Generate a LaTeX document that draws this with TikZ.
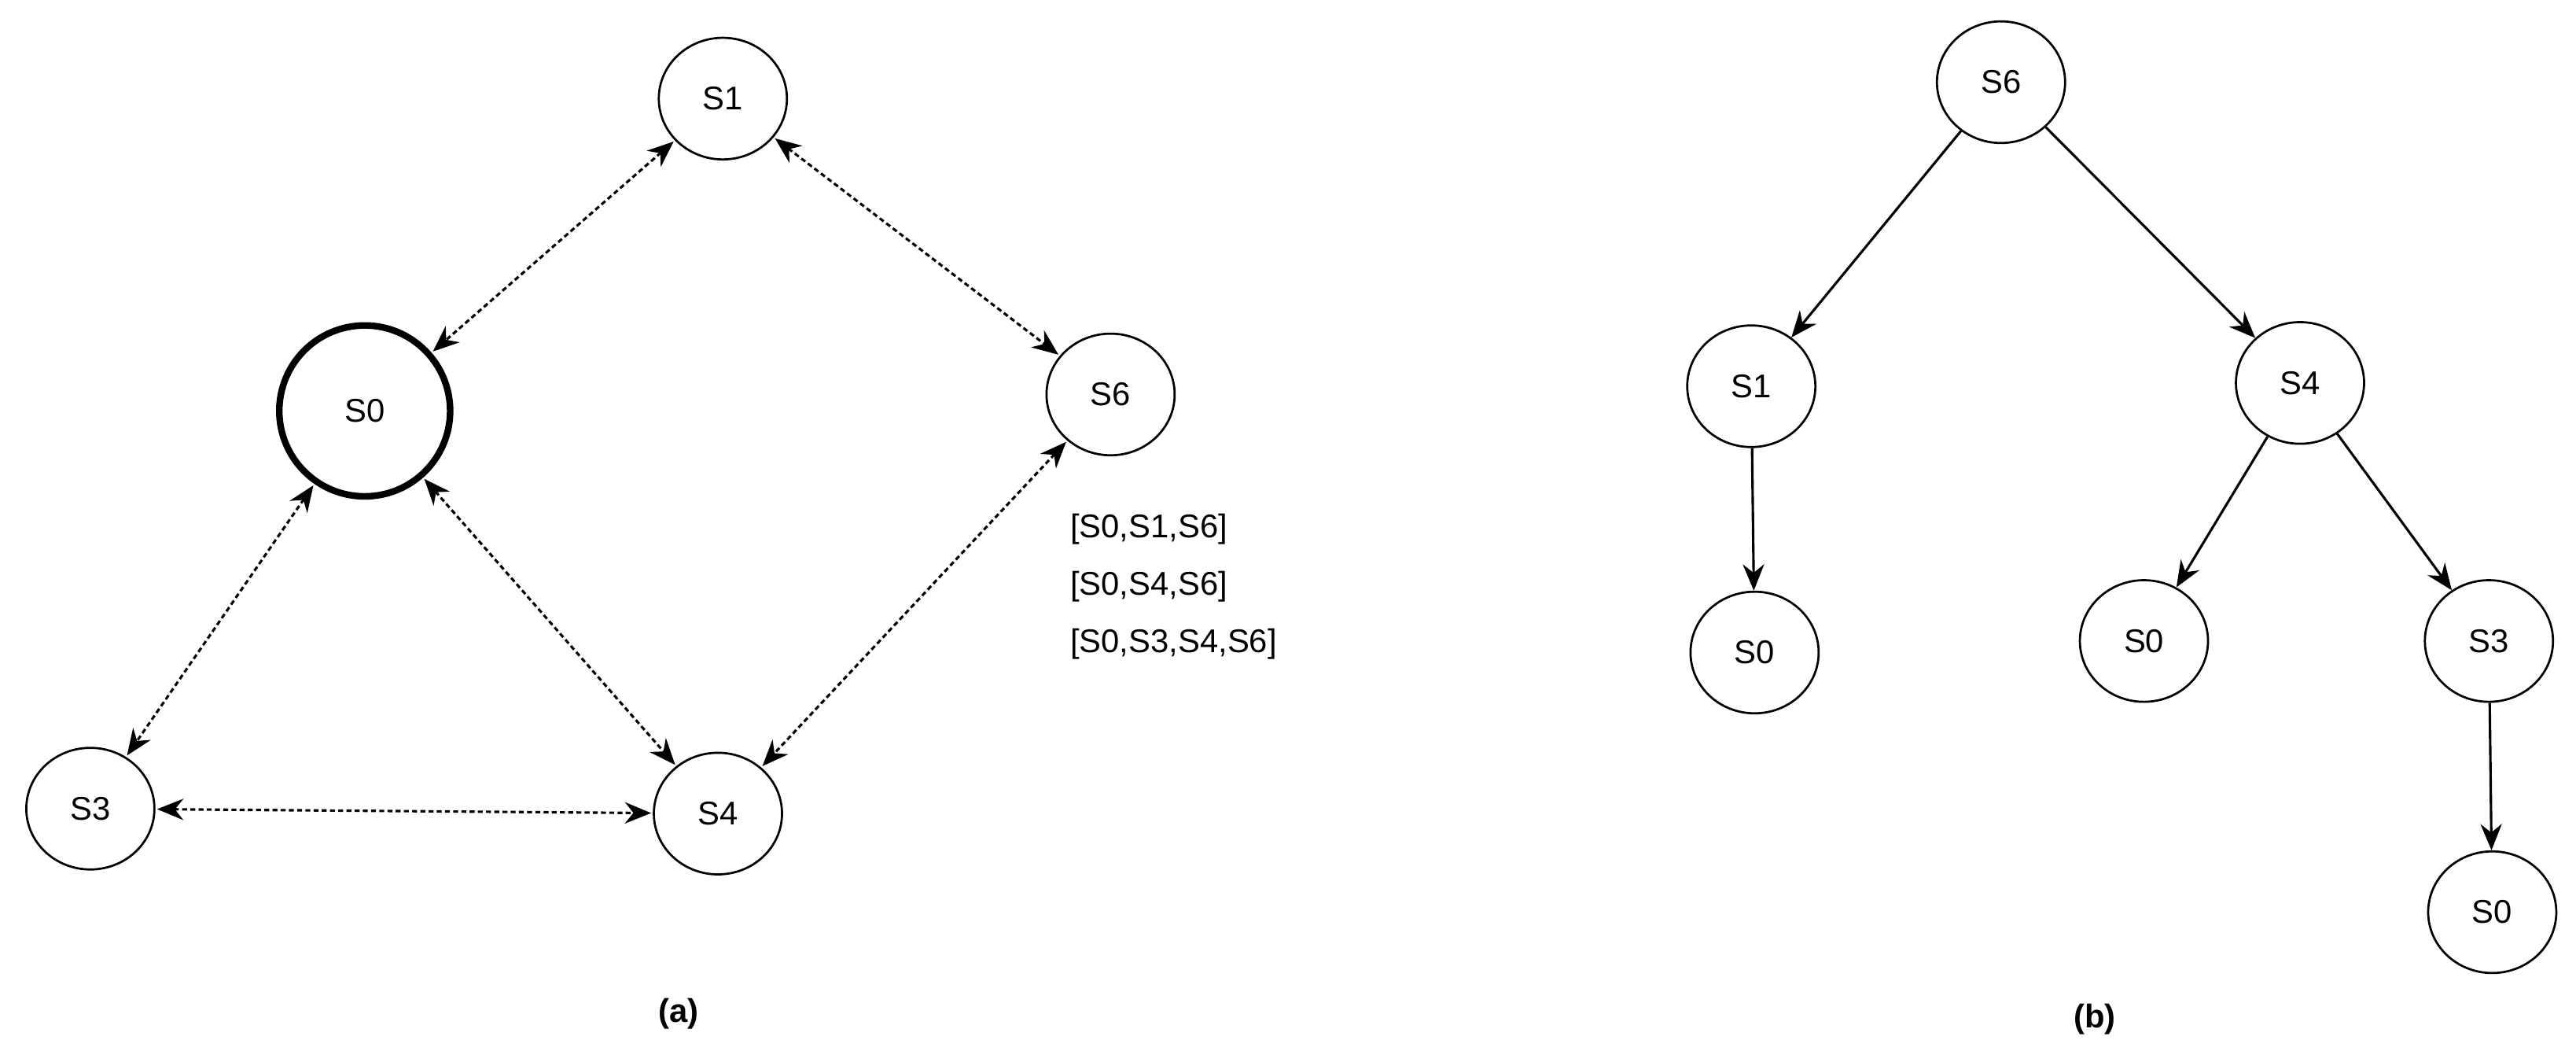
\documentclass[tikz,border=0pt]{standalone}
\usepackage{fontspec}
\setmainfont{Liberation Sans}
\usetikzlibrary{arrows.meta,shapes.geometric}
\begin{document}
\begin{tikzpicture}[x=1pt,y=-1pt,
 st/.style={ellipse,draw,line width=1.3pt,minimum width=78pt,minimum height=74pt,inner sep=0pt,font=\fontsize{20}{24}\selectfont},
 big/.style={st,line width=4pt,minimum width=104pt,minimum height=104pt},
 dd/.style={line width=1.5pt,dash pattern=on 3pt off 2pt,{Stealth[length=16pt,width=13pt]}-{Stealth[length=16pt,width=13pt]},shorten <=1pt,shorten >=1pt},
 sa/.style={line width=1.5pt,-{Stealth[length=16pt,width=13pt]}},
 lbl/.style={font=\fontsize{20}{24}\selectfont},
 captxt/.style={font=\bfseries\fontsize{20}{24}\selectfont}]
\useasboundingbox (0,0) rectangle (1568,646);
\node[st] (a1) at (440,60) {S1};
\node[big] (a0) at (222,250) {S0};
\node[st] (a6) at (676,240) {S6};
\node[st] (a3) at (55,492) {S3};
\node[st] (a4) at (437,495) {S4};
\draw[dd] (a1) -- (a0);
\draw[dd] (a1) -- (a6);
\draw[dd] (a0) -- (a3);
\draw[dd] (a0) -- (a4);
\draw[dd] (a6) -- (a4);
\draw[dd] (a3) -- (a4);
\node[lbl,anchor=west] (t1) at (648,322) {[S0,S1,S6]};
\node[lbl,anchor=west] (t2) at (648,357) {[S0,S4,S6]};
\node[lbl,anchor=west] (t3) at (648,392) {[S0,S3,S4,S6]};
\node[captxt] (ca) at (413,617) {(a)};
\node[st] (b6) at (1218,50) {S6};
\node[st] (b1) at (1066,235) {S1};
\node[st] (b4) at (1400,233) {S4};
\node[st] (b0a) at (1068,397) {S0};
\node[st] (b0b) at (1305,390) {S0};
\node[st] (b3) at (1515,390) {S3};
\node[st] (b0c) at (1517,555) {S0};
\draw[sa] (b6) -- (b1);
\draw[sa] (b6) -- (b4);
\draw[sa] (b1) -- (b0a);
\draw[sa] (b4) -- (b0b);
\draw[sa] (b4) -- (b3);
\draw[sa] (b3) -- (b0c);
\node[captxt] (cb) at (1275,620) {(b)};
\end{tikzpicture}
\end{document}
